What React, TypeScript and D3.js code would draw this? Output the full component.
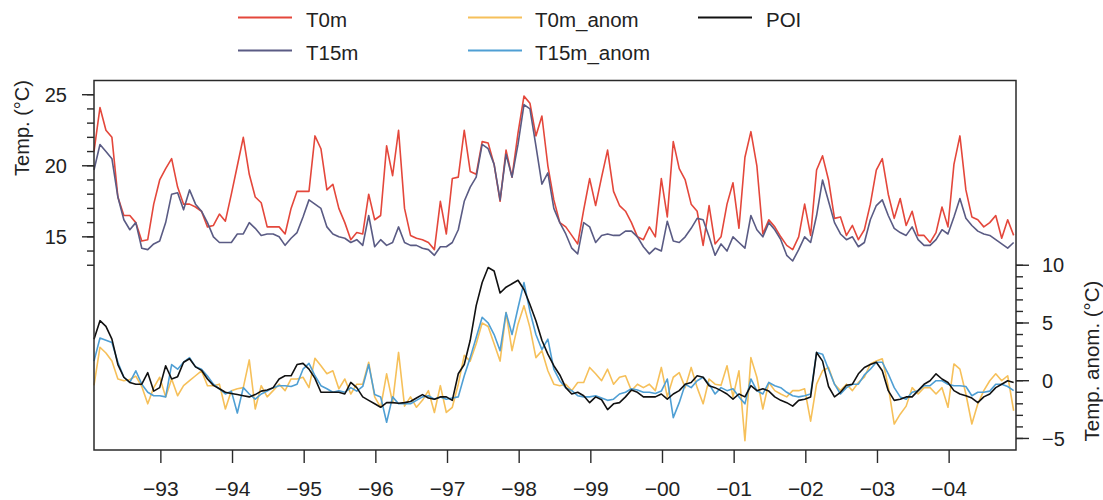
import React from "react";
import * as d3 from "d3";

// Monthly series, first month ~Jan 1992, last ~Dec 2004
const START_YEAR = 1992.067;
const END_YEAR = 2004.933;

const T0m = [
  21.0, 24.1, 22.5, 22.0, 17.8, 16.5, 16.5, 16.0, 14.7, 14.8,
  17.3, 19.0, 19.8, 20.5, 18.5, 17.3, 17.3, 17.1, 16.8, 15.7,
  15.8, 16.6, 16.1, 18.0, 20.0, 22.0, 19.4, 17.8, 17.4, 15.7,
  15.7, 15.7, 15.2, 17.0, 18.2, 18.2, 18.2, 22.1, 21.2, 18.3,
  18.7, 17.0, 16.0, 14.8, 15.3, 15.2, 18.0, 16.2, 16.5, 21.4,
  19.3, 22.5, 17.0, 15.1, 14.9, 14.8, 14.6, 14.1, 17.5, 15.2,
  19.1, 19.2, 22.5, 19.6, 19.4, 21.7, 21.6, 20.1, 17.5, 21.1,
  19.2, 22.3, 24.9, 24.4, 22.1, 23.5, 20.0, 17.6, 16.0, 15.7,
  15.1, 14.5, 16.9, 19.1, 17.2, 19.2, 21.1, 18.2, 17.2, 16.8,
  16.0, 15.0, 14.8, 15.7, 15.0, 19.1, 16.4, 21.7, 19.8, 19.0,
  17.3, 16.8, 14.4, 17.2, 14.5, 15.0, 17.3, 18.8, 15.6, 20.6,
  22.4, 20.0, 15.2, 16.2, 15.7, 15.0, 14.4, 14.1, 15.0, 17.3,
  15.1, 19.7, 20.7, 19.0, 16.3, 16.4, 15.1, 15.8, 14.8, 15.5,
  17.3, 19.7, 20.5, 18.0, 16.3, 17.7, 15.8, 16.8, 15.1, 15.1,
  14.6, 15.3, 17.1, 15.7, 20.1, 22.1, 18.3, 16.4, 16.2, 15.7,
  16.0, 16.5, 14.9, 16.2, 15.1,
];

const T15m = [
  19.7, 21.5, 21.0, 20.5, 17.8, 16.2, 15.5, 16.0, 14.2, 14.1,
  14.5, 14.7, 16.0, 18.0, 18.1, 16.9, 18.3, 17.3, 16.8, 16.0,
  15.0, 14.6, 14.6, 14.6, 15.2, 15.2, 16.0, 15.6, 15.1, 15.2,
  15.2, 15.0, 14.4, 14.9, 15.3, 16.4, 17.6, 17.3, 17.0, 15.7,
  15.2, 15.0, 14.9, 14.6, 14.8, 14.4, 16.5, 14.3, 14.8, 14.4,
  14.6, 15.7, 14.6, 14.4, 14.4, 14.2, 14.1, 13.7, 14.3, 14.3,
  14.6, 15.5, 17.5, 18.5, 19.2, 21.5, 21.2, 20.1, 17.6, 20.8,
  19.2, 21.5, 24.3, 24.0, 21.4, 18.7, 19.5, 17.0, 16.0, 15.2,
  14.2, 13.8, 16.0, 15.7, 14.6, 15.1, 15.2, 15.1, 15.1, 15.4,
  15.4, 15.0, 14.3, 13.8, 14.2, 14.0, 16.1, 14.7, 14.6, 15.0,
  15.6, 16.3, 16.2, 15.0, 13.7, 14.5, 14.0, 15.0, 14.6, 14.2,
  16.5, 15.5, 15.0, 16.0, 15.5, 14.8, 13.7, 13.3, 14.1, 15.0,
  14.6, 16.5, 19.0, 17.5, 16.0, 15.2, 14.8, 15.0, 14.3, 14.6,
  16.2, 17.2, 17.6, 16.5, 15.6, 15.3, 15.1, 15.7, 14.8, 14.4,
  14.4, 14.8, 15.5, 15.2, 16.4, 17.7, 16.3, 15.8, 15.4, 15.2,
  15.1, 14.8, 14.5, 14.2, 14.6,
];

const T0m_anom = [
  -0.4, 2.9, 2.4, 1.7, 0.15, 0.0, 0.1, 0.4, -0.5, -2.0,
  -0.6, 0.3, -1.4, 0.15, -1.3, -0.43, 0.0, 0.43, 0.86, -0.43,
  -0.43, -0.3, -2.45, -0.86, -0.7, -0.6, 1.8, -2.45, -0.43, -1.4,
  -0.86, -0.3, -0.86, 0.15, 0.15, 0.3, -0.6, 1.95, 1.3, 0.6,
  0.86, -0.7, 0.15, -1.15, -0.3, -0.3, 1.6, -1.4, -2.3, 0.6,
  -1.9, 2.45, -2.2, -1.4, -2.3, -1.7, -0.86, -2.75, -0.43, -2.75,
  -2.3, -0.3, 2.2, 1.7, 3.2, 5.0, 4.7, 3.2, 1.7, 5.9,
  2.6, 4.9, 6.5, 4.6, 2.0, 2.6, 0.86, -0.3, -0.43, -0.3,
  -0.86, -0.15, -0.15, 1.15, 0.6, 0.0, 1.0, -0.3, 0.3, 0.43,
  -0.86, -0.3, -0.6, -0.3, -0.86, 1.15, -1.4, 0.3, 0.7, -0.6,
  1.15, -0.6, -2.0, 0.15, -0.3, -0.4, 1.3, -1.4, 0.86, -5.2,
  2.0, 0.3, -2.45, -0.15, -0.86, -1.15, -1.4, -0.86, -0.86, -0.7,
  -3.5, -0.3, 0.86, 1.15, -0.3, -0.86, -0.3, -0.86, -0.15, 0.3,
  1.45, 1.7, 1.9, -0.5, -3.75, -2.9, -2.2, -0.6, -1.15, -0.6,
  -0.6, -1.15, -0.6, -2.3, 1.45, 1.0, -1.15, -3.75, -2.0, -0.86,
  0.0, 0.6, 0.0, 0.43, -2.6,
];

const T15m_anom = [
  1.7, 3.7, 3.5, 3.3, 1.6, 0.3, -0.15, 0.86, -0.3, -1.0,
  -1.3, -1.3, -1.4, 1.4, 1.0, 1.6, 2.0, 1.2, 1.0, 0.4,
  -0.3, -0.7, -1.15, -0.9, -2.8, -0.6, -1.15, -1.6, -1.15, -0.9,
  -0.6, -0.43, -0.43, -0.5, -0.3, 1.0, 1.5, 0.43, -0.43, -0.7,
  -1.0, -0.86, -1.0, -0.6, -0.9, -0.5, 1.4, -1.2, -1.4, -3.6,
  -1.4, -2.0, -2.0, -2.0, -1.7, -1.4, -1.3, -1.6, -1.4, -1.6,
  -1.5, -1.4, 0.43, 2.0, 3.75, 5.5, 5.0, 4.0, 2.6, 5.9,
  4.0, 6.3, 8.5, 6.0, 4.0, 2.7, 3.6, 1.0, 0.0, -0.6,
  -0.86, -1.3, -1.4, -1.4, -1.3, -1.5, -1.7, -1.6, -1.15, -1.0,
  -0.7, -0.8, -1.0, -1.0, -1.1, -0.9, 0.15, -3.2, -1.9, -0.3,
  -0.6, 0.0, 0.3, -0.3, -1.15, -0.6, -0.86, -0.7, -1.4, -2.0,
  0.15, -0.86, -1.15, -0.15, -0.43, -0.6, -1.0, -1.3, -1.4, -1.3,
  -1.15, 2.45, 2.3, 1.0, -0.3, -1.15, -0.6, -0.3, -0.3, 0.5,
  1.0, 1.6, 1.6, 0.6, -0.6, -1.4, -1.6, -1.0, -0.86, -0.43,
  -0.43, 0.0, 0.0, -0.3, -0.43, -0.43, -0.5, -1.3, -1.0, -1.0,
  -0.9, -0.3, -0.3, -0.5, -0.86,
];

const POI = [
  3.6, 5.2, 4.7, 3.6, 1.4, 0.3, -0.15, -0.3, -0.3, 0.7,
  -0.9, -0.6, 1.3, 0.15, 0.35, 1.6, 1.9, 1.2, 0.9, 0.15,
  -0.4, -0.7, -1.0, -1.1, -1.2, -1.3, -1.4, -1.2, -0.9, -0.8,
  -0.6, 0.15, 0.43, 0.43, 1.4, 1.5, 1.0, 0.2, -1.0, -1.0,
  -1.0, -1.0, -1.15, -0.15, -0.6, -1.4, -1.7, -2.0, -2.3, -1.9,
  -1.9, -1.95, -1.9, -1.8, -1.5, -1.2, -1.5, -1.6, -1.4, -1.4,
  -1.7, 0.6, 1.4, 3.5, 6.5, 8.5, 9.8, 9.5, 7.6, 8.1,
  8.4, 8.7, 7.9, 6.6, 5.2, 3.5, 2.3, 1.3, 0.5, -0.6,
  -1.15, -1.0, -1.3, -1.9, -1.4, -1.65, -2.5, -2.0, -1.9, -1.4,
  -0.8, -1.0, -1.4, -1.4, -1.4, -1.15, -1.6, -1.15, -0.86, -0.3,
  -0.15, 0.43, 0.3, -0.43, -0.6, -0.86, -1.15, -1.6, -1.15, -1.4,
  -0.43, -0.86, -0.7, -0.9, -1.4, -1.7, -1.9, -2.2, -1.7, -1.6,
  -1.4, 2.45, 1.7, -0.5, -1.4, -1.0, -0.4, -0.3, 0.6, 1.15,
  1.4, 1.6, 0.86, -0.86, -1.7, -1.6, -1.4, -1.4, -0.86, -0.3,
  0.0, 0.6, 0.15, -0.15, -0.86, -1.15, -1.3, -1.5, -1.9, -1.4,
  -1.15, -0.6, -0.3, 0.0, -0.15,
];

const YEAR_TICKS = [1993, 1994, 1995, 1996, 1997, 1998, 1999, 2000, 2001, 2002, 2003, 2004];
const YEAR_LABELS = ["\u221293", "\u221294", "\u221295", "\u221296", "\u221297", "\u221298", "\u221299", "\u221200", "\u221201", "\u221202", "\u221203", "\u221204"];
const LEFT_MAJOR = [15, 20, 25];
const LEFT_MINOR = [13, 14, 15, 16, 17, 18, 19, 20, 21, 22, 23, 24, 25];
const RIGHT_MAJOR = [-5, 0, 5, 10];
const RIGHT_MINOR = [-5, -4, -3, -2, -1, 0, 1, 2, 3, 4, 5, 6, 7, 8, 9, 10];

const SERIES = [
  { name: "T0m", data: T0m, color: "#e4473b", axis: "left" },
  { name: "T15m", data: T15m, color: "#5a5b84", axis: "left" },
  { name: "T0m_anom", data: T0m_anom, color: "#f6c05a", axis: "right" },
  { name: "T15m_anom", data: T15m_anom, color: "#4f9fd4", axis: "right" },
  { name: "POI", data: POI, color: "#111111", axis: "right" },
];

const FONT = "'Liberation Sans', Arial, Helvetica, sans-serif";

export default function App() {
  const W = 1103, H = 500;
  const L = 94, R = 1016, T = 80.5, B = 450;
  const x = d3.scaleLinear().domain([START_YEAR, END_YEAR]).range([L, R]);
  const yL = d3.scaleLinear().domain([0, 26]).range([B, T]);
  const yR = d3.scaleLinear().domain([-6, 26]).range([B, T]);
  const tOf = (i: number) => START_YEAR + i / 12;

  const mk = (axis: string) =>
    d3.line<number>()
      .x((_, i) => x(tOf(i)))
      .y((d) => (axis === "left" ? yL(d) : yR(d)));

  const legend = [
    { s: SERIES[0], lx: 238, ly: 17.5, tx: 306, ty: 27 },
    { s: SERIES[1], lx: 238, ly: 50.5, tx: 306, ty: 60 },
    { s: SERIES[2], lx: 468, ly: 17.5, tx: 535, ty: 27 },
    { s: SERIES[3], lx: 468, ly: 50.5, tx: 535, ty: 60 },
    { s: SERIES[4], lx: 698, ly: 17.5, tx: 766, ty: 27 },
  ];

  return (
    <div style={{ position: "absolute", left: 0, top: 0 }}>
      <svg width={W} height={H} viewBox={`0 0 ${W} ${H}`} style={{ display: "block", background: "#fff" }} fontFamily={FONT}>
        {/* legend */}
        {legend.map((d) => (
          <g key={d.s.name}>
            <line x1={d.lx} x2={d.lx + 54} y1={d.ly} y2={d.ly} stroke={d.s.color} strokeWidth={2.2} />
            <text x={d.tx} y={d.ty} fontSize={20.5} fill="#222">{d.s.name}</text>
          </g>
        ))}

        {/* series */}
        {SERIES.map((s) => (
          <path key={s.name} d={mk(s.axis)(s.data) || ""} fill="none" stroke={s.color} strokeWidth={1.6} strokeLinejoin="round" />
        ))}

        {/* frame */}
        <rect x={L} y={T} width={R - L} height={B - T} fill="none" stroke="#2a2a2a" strokeWidth={1.5} />

        {/* left axis ticks */}
        {LEFT_MINOR.map((v) => (
          <line key={"lm" + v} x1={L - 7} x2={L} y1={yL(v)} y2={yL(v)} stroke="#2a2a2a" strokeWidth={1.4} />
        ))}
        {LEFT_MAJOR.map((v) => (
          <g key={"lM" + v}>
            <line x1={L - 12} x2={L} y1={yL(v)} y2={yL(v)} stroke="#2a2a2a" strokeWidth={1.4} />
            <text x={67} y={yL(v)} dy="0.36em" textAnchor="end" fontSize={20} fill="#222">{v}</text>
          </g>
        ))}

        {/* right axis ticks */}
        {RIGHT_MINOR.map((v) => (
          <line key={"rm" + v} x1={R} x2={R + 7} y1={yR(v)} y2={yR(v)} stroke="#2a2a2a" strokeWidth={1.4} />
        ))}
        {RIGHT_MAJOR.map((v) => (
          <g key={"rM" + v}>
            <line x1={R} x2={R + 13} y1={yR(v)} y2={yR(v)} stroke="#2a2a2a" strokeWidth={1.4} />
            <text x={1042} y={yR(v)} dy="0.36em" textAnchor="start" fontSize={20} fill="#222">{v < 0 ? "\u2212" + Math.abs(v) : String(v)}</text>
          </g>
        ))}

        {/* x axis ticks */}
        {YEAR_TICKS.map((yr, k) => (
          <g key={"x" + yr}>
            <line x1={x(yr)} x2={x(yr)} y1={B} y2={B + 13} stroke="#2a2a2a" strokeWidth={1.4} />
            <text x={x(yr)} y={496} textAnchor="middle" fontSize={21} fill="#222">{YEAR_LABELS[k]}</text>
          </g>
        ))}

        {/* axis titles */}
        <text transform="translate(29,128) rotate(-90)" textAnchor="middle" fontSize={20} fill="#222">Temp. (°C)</text>
        <text transform="translate(1099,361) rotate(-90)" textAnchor="middle" fontSize={20.5} fill="#222">Temp. anom. (°C)</text>
      </svg>
    </div>
  );
}
